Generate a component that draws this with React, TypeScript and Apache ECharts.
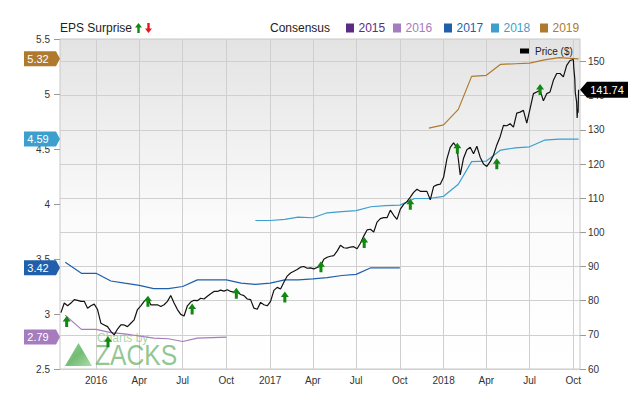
import React, { useEffect, useRef } from 'react';
import * as echarts from 'echarts';

const FONT = '"Liberation Sans", Arial, Helvetica, sans-serif';

// ---- axes ----
const xAxisStart = '2015-10-17';
const xAxisEnd = '2018-10-15';
const xTickDates = ['2016-01-01', '2016-04-01', '2016-07-01', '2016-10-01', '2017-01-01', '2017-04-01', '2017-07-01', '2017-10-01', '2018-01-01', '2018-04-01', '2018-07-01', '2018-10-01'];
const xTickLabels = ['2016', 'Apr', 'Jul', 'Oct', '2017', 'Apr', 'Jul', 'Oct', '2018', 'Apr', 'Jul', 'Oct'];
const priceTicks = [60, 70, 80, 90, 100, 110, 120, 130, 140, 150];

// ---- price (weekly from 2015-10-19, then daily tail) ----
const priceWeekStart = [2015, 10, 19];
const priceWeekly = [
  76.5, 79.3, 78.5, 79.3, 80.3, 80.1, 79.8, 79.8, 77.8, 78.5,
  79.0, 77.4, 73.4, 72.9, 72.4, 71.0, 70.0, 71.7, 72.9, 72.9,
  72.4, 73.4, 74.4, 77.4, 78.5, 79.8, 80.8, 78.8, 78.8, 78.8,
  78.3, 78.8, 79.8, 81.5, 79.3, 77.4, 76.0, 75.5, 78.5, 79.6,
  80.1, 80.0, 80.7, 80.5, 81.3, 82.0, 82.7, 82.7, 83.1, 82.8,
  83.2, 82.7, 82.5, 82.5, 81.8, 81.5, 80.5, 80.3, 77.8, 77.5,
  79.5, 78.8, 78.5, 79.8, 83.0, 83.9, 83.4, 85.4, 87.2, 88.1,
  88.6, 89.1, 89.8, 90.0, 89.5, 89.6, 89.3, 89.7, 90.1, 92.1,
  92.7, 93.0, 93.2, 94.5, 96.2, 95.5, 95.4, 95.7, 95.8, 95.2,
  96.8, 98.9, 100.7, 100.9, 100.1, 103.0, 104.0, 104.3, 104.3, 106.5,
  105.0, 103.8, 106.8, 108.2, 109.0, 110.3, 111.7, 112.6, 112.0, 112.0,
  112.0, 109.5, 113.4, 113.9, 114.1, 116.1, 121.5, 124.9, 126.2, 124.9,
  116.8, 121.7, 124.2, 124.9, 123.0, 125.2, 122.0, 120.0, 119.3, 120.7,
  122.6, 125.6, 128.0, 131.3, 131.2, 131.8, 130.8, 134.9, 135.2, 135.7,
  132.0, 136.2, 140.6, 141.1, 141.6, 138.5, 140.6, 141.1, 144.5, 146.5,
  146.5, 145.5, 148.9, 150.3, 150.6,
];
const priceTailDates = ['2018-10-02', '2018-10-04', '2018-10-05', '2018-10-08', '2018-10-09', '2018-10-10', '2018-10-11', '2018-10-12'];
const priceTailValues = [148.0, 145.0, 141.0, 138.0, 133.5, 136.0, 135.0, 141.74];

// ---- consensus EPS ----
const eps2016Dates = ['2015-10-28', '2015-12-01', '2016-01-01', '2016-02-01', '2016-03-01', '2016-04-01', '2016-05-01', '2016-06-01', '2016-07-01', '2016-08-01', '2016-09-01', '2016-10-01'];
const eps2016Values = [2.99, 2.86, 2.86, 2.83, 2.82, 2.80, 2.78, 2.775, 2.75, 2.78, 2.785, 2.79];

const eps2017Dates = ['2015-10-28', '2015-12-01', '2016-01-01', '2016-02-01', '2016-03-01', '2016-04-01', '2016-05-01', '2016-06-01', '2016-07-01', '2016-08-01', '2016-09-01', '2016-10-01', '2016-11-01', '2016-12-01', '2017-01-01', '2017-02-01', '2017-03-01', '2017-04-01', '2017-05-01', '2017-06-01', '2017-07-01', '2017-08-01', '2017-09-01', '2017-10-01'];
const eps2017Values = [3.47, 3.37, 3.37, 3.30, 3.28, 3.26, 3.23, 3.23, 3.25, 3.31, 3.31, 3.31, 3.28, 3.27, 3.28, 3.31, 3.31, 3.32, 3.33, 3.35, 3.36, 3.42, 3.42, 3.42];

const eps2018Dates = ['2016-12-01', '2017-01-01', '2017-02-01', '2017-03-01', '2017-04-01', '2017-05-01', '2017-06-01', '2017-07-01', '2017-08-01', '2017-09-01', '2017-10-01', '2017-11-01', '2017-12-01', '2018-01-01', '2018-02-01', '2018-03-01', '2018-04-01', '2018-05-01', '2018-06-01', '2018-07-01', '2018-08-01', '2018-09-01', '2018-10-12'];
const eps2018Values = [3.85, 3.85, 3.86, 3.88, 3.875, 3.92, 3.93, 3.94, 3.975, 3.985, 3.99, 4.05, 4.05, 4.07, 4.18, 4.385, 4.39, 4.49, 4.51, 4.52, 4.58, 4.59, 4.59];

const eps2019Dates = ['2017-12-01', '2018-01-01', '2018-02-01', '2018-03-01', '2018-04-01', '2018-05-01', '2018-06-01', '2018-07-01', '2018-08-01', '2018-09-01', '2018-10-12'];
const eps2019Values = [4.69, 4.72, 4.86, 5.16, 5.17, 5.27, 5.275, 5.28, 5.31, 5.33, 5.32];

// ---- EPS surprise markers (placed at price level) ----
const surpriseDates = ['2015-10-31', '2016-01-26', '2016-04-19', '2016-07-21', '2016-10-22', '2017-02-01', '2017-04-18', '2017-07-18', '2017-10-23', '2018-01-30', '2018-04-23', '2018-07-23'];
const surpriseLevels = [73.9, 68.0, 79.8, 77.6, 82.2, 81.1, 89.9, 97.0, 108.2, 124.6, 120.1, 141.8];

// ---- legend ----
const legendYears = ['2015', '2016', '2017', '2018', '2019'];
const yearColors = ['#5b2c86', '#a57cbd', '#1f5fab', '#3c9fce', '#b07a2e'];

function parseDay(s: string): number {
  const [y, m, d] = s.split('-').map(Number);
  return new Date(y, m - 1, d).getTime();
}

export default function App() {
  const ref = useRef<HTMLDivElement>(null);

  useEffect(() => {
    document.body.style.margin = '0';
    if (!ref.current) return;
    const chart = echarts.init(ref.current, undefined, { renderer: 'svg' });

    const xMin = parseDay(xAxisStart);
    const xMax = parseDay(xAxisEnd);
    const xTickTimes = xTickDates.map(parseDay);

    const priceData: [number, number][] = priceWeekly.map((v, i) => [
      new Date(priceWeekStart[0], priceWeekStart[1] - 1, priceWeekStart[2] + 7 * i).getTime(),
      v,
    ]);
    priceTailDates.forEach((d, i) => priceData.push([parseDay(d), priceTailValues[i]]));
    const lastPrice = priceTailValues[priceTailValues.length - 1];

    const mk = (dates: string[], vals: number[]) => dates.map((d, i) => [parseDay(d), vals[i]]);

    const epsSeries = [
      { dates: eps2016Dates, vals: eps2016Values, color: yearColors[1] },
      { dates: eps2017Dates, vals: eps2017Values, color: yearColors[2] },
      { dates: eps2018Dates, vals: eps2018Values, color: yearColors[3] },
      { dates: eps2019Dates, vals: eps2019Values, color: yearColors[4] },
    ];
    const badgeColors = epsSeries.map((s) => s.color);
    const badgeData = epsSeries.map((s) => [xMin, s.vals[s.vals.length - 1]]);

    const arrowPath = 'path://M4,0 L8,5 L5.5,5 L5.5,10 L2.5,10 L2.5,5 L0,5 Z';

    // legend graphics
    const legendEls: any[] = [
      { type: 'text', x: 60, y: 28, z: 10, style: { text: 'EPS Surprise', font: `12px ${FONT}`, fill: '#222', verticalAlign: 'middle' } },
      { type: 'polygon', z: 10, shape: { points: [[138.5, 23], [142, 27.5], [139.7, 27.5], [139.7, 33], [137.3, 33], [137.3, 27.5], [135, 27.5]] }, style: { fill: '#118811' } },
      { type: 'polygon', z: 10, shape: { points: [[148.5, 33], [152, 28.5], [149.7, 28.5], [149.7, 23], [147.3, 23], [147.3, 28.5], [145, 28.5]] }, style: { fill: '#e8141b' } },
      { type: 'text', x: 270, y: 28, z: 10, style: { text: 'Consensus', font: `12px ${FONT}`, fill: '#222', verticalAlign: 'middle' } },
    ];
    const yearX = [346, 393, 444, 491, 540];
    legendYears.forEach((yr, i) => {
      legendEls.push({ type: 'rect', z: 10, shape: { x: yearX[i], y: 23.5, width: 8, height: 9 }, style: { fill: yearColors[i] } });
      legendEls.push({ type: 'text', x: yearX[i] + 12.5, y: 28, z: 10, style: { text: yr, font: `12px ${FONT}`, fill: yearColors[i], verticalAlign: 'middle' } });
    });
    legendEls.push({ type: 'rect', z: 10, shape: { x: 520, y: 48.5, width: 9, height: 5 }, style: { fill: '#000' } });
    legendEls.push({ type: 'text', x: 535, y: 51, z: 10, style: { text: 'Price ($)', font: `10px ${FONT}`, fill: '#222', verticalAlign: 'middle' } });

    // watermark
    const watermark: any[] = [
      {
        type: 'polygon', z: 1,
        shape: { points: [[65, 366], [78.5, 343], [92, 366]] },
        style: {
          fill: new echarts.graphic.LinearGradient(0, 0, 1, 1, [
            { offset: 0, color: 'rgba(120,200,120,0.8)' },
            { offset: 0.5, color: 'rgba(70,165,70,0.75)' },
            { offset: 1, color: 'rgba(150,215,150,0.8)' },
          ]),
        },
      },
      { type: 'text', x: 97, y: 338, z: 1, style: { text: 'Charts by', font: `12px ${FONT}`, fill: 'rgba(110,185,110,0.6)', verticalAlign: 'middle' } },
      { type: 'text', x: 95, y: 355.5, z: 1, scaleX: 0.85, style: { text: 'ZACKS', font: `29px ${FONT}`, fill: 'rgba(85,165,85,0.65)', verticalAlign: 'middle' } },
    ];

    const option: any = {
      animation: false,
      textStyle: { fontFamily: FONT },
      grid: {
        left: 60, right: 60, top: 39, bottom: 36,
        show: true, borderColor: '#c8c8c8', borderWidth: 1,
        backgroundColor: new echarts.graphic.LinearGradient(0, 0, 0, 1, [
          { offset: 0, color: '#e3e3e3' },
          { offset: 0.55, color: '#fbfbfb' },
          { offset: 1, color: '#ffffff' },
        ]),
      },
      xAxis: {
        type: 'value', min: xMin, max: xMax,
        axisLine: { show: false },
        axisTick: { show: false, customValues: xTickTimes },
        axisLabel: {
          customValues: xTickTimes,
          fontSize: 10, color: '#333', margin: 6, fontFamily: FONT,
          formatter: (v: number) => {
            const idx = xTickTimes.findIndex((t) => Math.abs(t - v) < 43200000);
            return idx >= 0 ? xTickLabels[idx] : '';
          },
        },
        splitLine: { show: true, lineStyle: { color: '#cfcfcf', width: 1 } },
      },
      yAxis: [
        {
          type: 'value', position: 'left', min: 2.5, max: 5.5, interval: 0.5,
          axisLine: { show: false },
          axisTick: { show: true, length: 6, lineStyle: { color: '#999' } },
          axisLabel: { fontSize: 10, color: '#333', margin: 10, fontFamily: FONT },
          splitLine: { show: false },
        },
        {
          type: 'value', position: 'right', min: 60, max: 156.6, interval: 10,
          axisLine: { show: false },
          axisTick: { show: true, length: 6, lineStyle: { color: '#999' }, customValues: priceTicks },
          axisLabel: { fontSize: 10, color: '#333', margin: 8, fontFamily: FONT, customValues: priceTicks },
          splitLine: { show: true, lineStyle: { color: '#d0d0d0', width: 1 } },
        },
      ],
      graphic: { elements: [...watermark, ...legendEls] },
      series: [
        ...epsSeries.map((s) => ({
          type: 'line', xAxisIndex: 0, yAxisIndex: 0, data: mk(s.dates, s.vals),
          symbol: 'none', z: 2, silent: true,
          lineStyle: { color: s.color, width: 1.2 },
        })),
        {
          type: 'line', xAxisIndex: 0, yAxisIndex: 1, data: priceData,
          symbol: 'none', z: 3, silent: true,
          lineStyle: { color: '#111', width: 1.2 },
        },
        {
          type: 'scatter', xAxisIndex: 0, yAxisIndex: 1,
          data: surpriseDates.map((d, i) => [parseDay(d), surpriseLevels[i]]),
          symbol: arrowPath, symbolSize: [8, 11], z: 4, silent: true,
          itemStyle: { color: '#118811', opacity: 1 },
        },
        {
          type: 'custom', xAxisIndex: 0, yAxisIndex: 0, clip: false, z: 6, silent: true,
          data: badgeData,
          renderItem: (params: any, api: any) => {
            const i = params.dataIndex;
            const p = api.coord([api.value(0), api.value(1)]);
            const x = p[0];
            const y = p[1];
            return {
              type: 'group',
              children: [
                { type: 'polygon', shape: { points: [[x - 36, y - 7.5], [x - 4, y - 7.5], [x, y], [x - 4, y + 7.5], [x - 36, y + 7.5]] }, style: { fill: badgeColors[i] } },
                { type: 'text', style: { text: Number(api.value(1)).toFixed(2), x: x - 22, y: y, align: 'center', verticalAlign: 'middle', fill: '#fff', font: `11px ${FONT}` } },
              ],
            };
          },
        },
        {
          type: 'custom', xAxisIndex: 0, yAxisIndex: 1, clip: false, z: 6, silent: true,
          data: [[xMax, lastPrice]],
          renderItem: (params: any, api: any) => {
            const p = api.coord([api.value(0), api.value(1)]);
            const x = p[0];
            const y = p[1];
            return {
              type: 'group',
              children: [
                { type: 'polygon', shape: { points: [[x, y], [x + 7, y - 8], [x + 48, y - 8], [x + 48, y + 8], [x + 7, y + 8]] }, style: { fill: '#000' } },
                { type: 'text', style: { text: Number(api.value(1)).toFixed(2), x: x + 27, y: y, align: 'center', verticalAlign: 'middle', fill: '#fff', font: `11px ${FONT}` } },
              ],
            };
          },
        },
      ],
    };

    chart.setOption(option);
    return () => chart.dispose();
  }, []);

  return <div ref={ref} style={{ width: 640, height: 405 }} />;
}
